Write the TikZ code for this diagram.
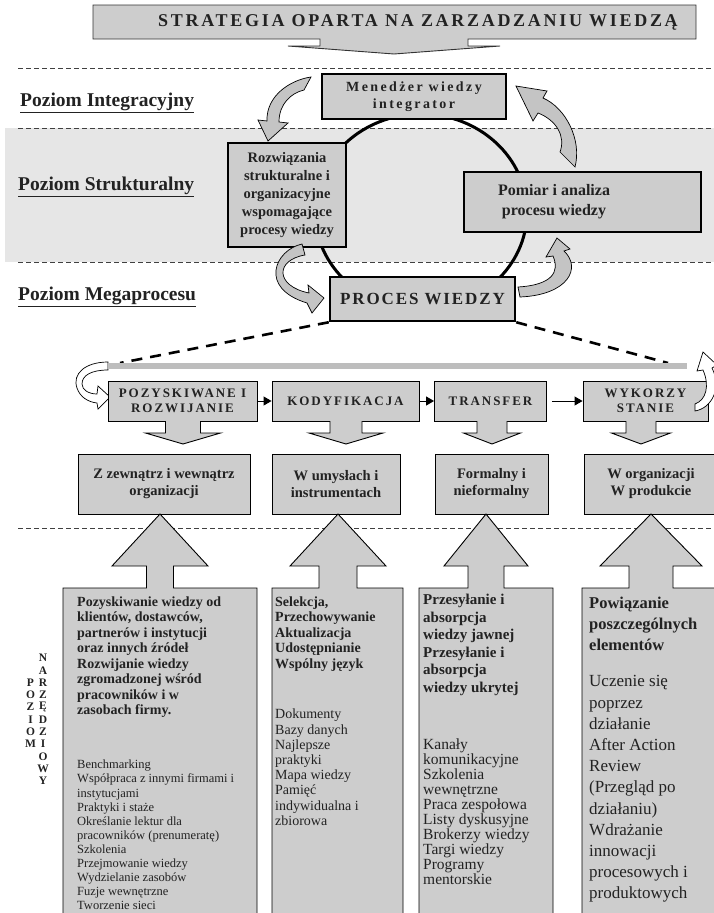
\documentclass[tikz,border=0pt]{standalone}
\usepackage{fontspec}
\setmainfont{Liberation Serif}
\usetikzlibrary{arrows.meta}
\definecolor{boxfill}{HTML}{CDCDCD}
\definecolor{bandfill}{HTML}{E6E6E6}
\definecolor{barfill}{HTML}{BDBDBD}
\definecolor{arrfill}{HTML}{C4C4C4}
\definecolor{ink}{HTML}{222222}
\tikzset{
  thinbox/.style={draw=black,fill=boxfill,line width=0.9pt,inner sep=0pt,align=center,text=ink},
  thickbox/.style={thinbox,line width=2.5pt},
  stepbox/.style={thinbox,minimum height=40pt,font=\fontsize{13}{15.5}\selectfont\bfseries\addfontfeature{LetterSpace=15}},
  descbox/.style={thinbox,minimum height=60pt,font=\fontsize{14.5}{17}\selectfont\bfseries},
  poziom/.style={anchor=west,inner sep=0pt,text=ink,font=\fontsize{19.5}{21}\selectfont\bfseries},
  vert/.style={inner sep=0pt,text=ink,font=\fontsize{11.5}{11.5}\selectfont\bfseries},
  curvarr/.style={draw=black,fill=arrfill,line width=0.7pt},
  whitearr/.style={draw=black,fill=white,line width=0.7pt},
  listtxt/.style={anchor=north west,inner sep=0pt,align=left,text=ink}
}
\begin{document}
\begin{tikzpicture}[x=1pt,y=-1pt,line join=miter,>={Triangle[length=8pt,width=9pt]}]
\useasboundingbox (0,0) rectangle (714,913);
% pasmo strukturalne i linie poziomow
\fill[bandfill] (5,128) rectangle (714,262);
\foreach \y in {68,128,262,528}
  \draw[black!75,line width=0.8pt,dash pattern=on 5pt off 3pt] (18,\y) -- (714,\y);

% strategia
\path[draw=black!80,fill=boxfill,line width=0.9pt] (93,5) -- (696,5) -- (696,39) -- (468,39) -- (468,46) -- (500,46) -- (394,54) -- (288,46) -- (320,46) -- (320,39) -- (93,39) -- cycle;
\node[inner sep=0pt,text=ink,font=\fontsize{18}{20}\selectfont\bfseries\addfontfeature{LetterSpace=15}] (strat) at (418,22) {STRATEGIA OPARTA NA ZARZADZANIU WIEDZĄ};

\node[poziom] (pint) at (20,103) {\underline{Poziom Integracyjny}};
\node[poziom] (pstr) at (18,187) {\underline{Poziom Strukturalny}};
\node[poziom] (pmeg) at (18,297) {\underline{Poziom Megaprocesu}};

% cykl
\draw[line width=3pt] (421,212) ellipse [x radius=106,y radius=98];
\node[thickbox,minimum width=184pt,minimum height=45pt,font=\fontsize{14}{17}\selectfont\bfseries\addfontfeature{LetterSpace=17}] (men) at (414,96.5) {Menedżer wiedzy\\integrator};
\node[thickbox,minimum width=118pt,minimum height=104pt,font=\fontsize{14.5}{17.8}\selectfont\bfseries] (roz) at (287,195) {Rozwiązania\\strukturalne i\\organizacyjne\\wspomagające\\procesy wiedzy};
\node[thickbox,minimum width=237pt,minimum height=60pt] (pom) at (582.5,202) {};
\node[inner sep=0pt,align=center,text=ink,font=\fontsize{16}{20}\selectfont\bfseries] (pomtxt) at (554,202) {Pomiar i analiza\\procesu wiedzy};
\node[thickbox,minimum width=185pt,minimum height=44pt,font=\fontsize{17}{20}\selectfont\bfseries\addfontfeature{LetterSpace=11}] (proc) at (422.5,299) {PROCES WIEDZY};

% zakrzywione strzalki
\path[curvarr] (311,77) .. controls (290,80) and (266,96) .. (267,121) -- (258,120) -- (268,141) -- (288,123) -- (279,122) .. controls (279,104) and (291,93) .. (304,90) -- cycle;
\path[curvarr] (516,86) -- (547,91) -- (543,98) .. controls (566,108) and (582,140) .. (575,167) -- (560,152) .. controls (566,136) and (556,120) .. (538,113) -- (533,121) -- cycle;
\path[curvarr] (302,244) .. controls (275,250) and (258,288) .. (307,303) -- (312,313) -- (324,298) -- (308,285) -- (309,293) .. controls (275,286) and (275,260) .. (305,255) -- cycle;
\path[curvarr] (557,238) -- (570,249) -- (564,251) .. controls (582,268) and (568,295) .. (520,297) -- (518,287) .. controls (552,285) and (560,272) .. (553,256) -- (546,257) -- cycle;

% rozwiniecie megaprocesu
\coordinate (barL) at (108,366);
\coordinate (barR) at (687,366);
\coordinate (dl) at (120,363);
\coordinate (dr) at (668,363);
\draw[line width=2.6pt,dash pattern=on 11pt off 8pt] (proc.south west) -- (dl);
\draw[line width=2.6pt,dash pattern=on 11pt off 8pt] (proc.south east) -- (dr);
\path[whitearr] (108,362) .. controls (85,362) and (72,374) .. (77,388) .. controls (80,397) and (88,402) .. (97,403) -- (98,409) -- (110,397) -- (98,386) -- (97,394) .. controls (89,394) and (82,390) .. (82,384) .. controls (82,375) and (92,370) .. (108,370) -- cycle;
\draw[barfill,line width=6pt] (barL) -- (barR);

\node[stepbox,minimum width=149pt] (s1) at (182.5,401) {POZYSKIWANE I\\ROZWIJANIE};
\node[stepbox,minimum width=147pt] (s2) at (345.5,401) {KODYFIKACJA};
\node[stepbox,minimum width=112pt] (s3) at (490.5,401) {TRANSFER};
\node[stepbox,minimum width=125pt] (s4) at (645.5,401) {WYKORZY\\STANIE};
\draw[->,line width=1pt] (s1) -- (s2);
\draw[->,line width=1pt] (s2) -- (s3);
\draw[->,line width=1pt,shorten <=5pt] (s3) -- (s4);
\path[whitearr] (695,411) .. controls (712,408) and (722,388) .. (712,368) -- (717,365) -- (703,352) -- (697,371) -- (703,370) .. controls (710,386) and (706,400) .. (695,404) -- cycle;

% strzalki w dol
\foreach \cx/\sh/\wh in {183/17.5/37.5,346/16/37,492/15/28.5,641/15/29.5}{
  \fill[boxfill] (\cx-\sh,420) -- (\cx-\sh,433) -- (\cx-\wh,433) -- (\cx,444) -- (\cx+\wh,433) -- (\cx+\sh,433) -- (\cx+\sh,420) -- cycle;
  \draw[line width=0.9pt] (\cx-\sh,421) -- (\cx-\sh,433) -- (\cx-\wh,433) -- (\cx,444) -- (\cx+\wh,433) -- (\cx+\sh,433) -- (\cx+\sh,421);
}

\node[descbox,minimum width=172pt] (d1) at (164,484) {Z zewnątrz i wewnątrz\\organizacji};
\node[descbox,minimum width=128pt] (d2) at (336,484) {W umysłach i\\instrumentach};
\node[descbox,minimum width=113pt] (d3) at (491.5,484) {Formalny i\\nieformalny};
\node[descbox,minimum width=134pt] (d4) at (651,484) {W organizacji\\W produkcie};

% poziom narzedziowy
\foreach \xl/\xr/\cx/\sh/\wh in {63/257/160/13.5/48,272/403/338/19/48,419/553/486/18/42,582/718/651/22/51}
  \path[draw=black,fill=boxfill,line width=0.9pt] (\xl,920) -- (\xl,588) -- (\cx-\sh,588) -- (\cx-\sh,566) -- (\cx-\wh,566) -- (\cx,514) -- (\cx+\wh,566) -- (\cx+\sh,566) -- (\cx+\sh,588) -- (\xr,588) -- (\xr,920);

\foreach \l [count=\i from 0] in {N,A,R,Z,Ę,D,Z,I,O,W,Y}
  \node[vert] (nr\i) at (43,658+\i*12.3) {\l};
\foreach \l [count=\i from 2] in {P,O,Z,I,O,M}
  \node[vert] (po\i) at (30.5,658+\i*12.3) {\l};

\node[listtxt,font=\fontsize{14}{15.5}\selectfont\bfseries] (tab) at (77,596.5) {Pozyskiwanie wiedzy od\\klientów, dostawców,\\partnerów i instytucji\\oraz innych źródeł\\Rozwijanie wiedzy\\zgromadzonej wśród\\pracowników i w\\zasobach firmy.};
\node[listtxt,font=\fontsize{12.5}{14.1}\selectfont] (tar) at (77,760) {Benchmarking\\Współpraca z innymi firmami i\\instytucjami\\Praktyki i staże\\Określanie lektur dla\\pracowników (prenumeratę)\\Szkolenia\\Przejmowanie wiedzy\\Wydzielanie zasobów\\Fuzje wewnętrzne\\Tworzenie sieci};
\node[listtxt,font=\fontsize{14}{15.5}\selectfont\bfseries] (tbb) at (275,596.5) {Selekcja,\\Przechowywanie\\Aktualizacja\\Udostępnianie\\Wspólny język};
\node[listtxt,font=\fontsize{14}{15.2}\selectfont] (tbr) at (275,709) {Dokumenty\\Bazy danych\\Najlepsze\\praktyki\\Mapa wiedzy\\Pamięć\\indywidualna i\\zbiorowa};
\node[listtxt,font=\fontsize{15}{17.5}\selectfont\bfseries] (tcb) at (423,594) {Przesyłanie i\\absorpcja\\wiedzy jawnej\\Przesyłanie i\\absorpcja\\wiedzy ukrytej};
\node[listtxt,font=\fontsize{15.5}{15}\selectfont] (tcr) at (423,739) {Kanały\\komunikacyjne\\Szkolenia\\wewnętrzne\\Praca zespołowa\\Listy dyskusyjne\\Brokerzy wiedzy\\Targi wiedzy\\Programy\\mentorskie};
\node[listtxt,font=\fontsize{16.5}{21}\selectfont\bfseries] (tdb) at (589,596.5) {Powiązanie\\poszczególnych\\elementów};
\node[listtxt,font=\fontsize{17}{21.2}\selectfont] (tdr) at (589,675.5) {Uczenie się\\poprzez\\działanie\\After Action\\Review\\(Przegląd po\\działaniu)\\Wdrażanie\\innowacji\\procesowych i\\produktowych};
\end{tikzpicture}
\end{document}
